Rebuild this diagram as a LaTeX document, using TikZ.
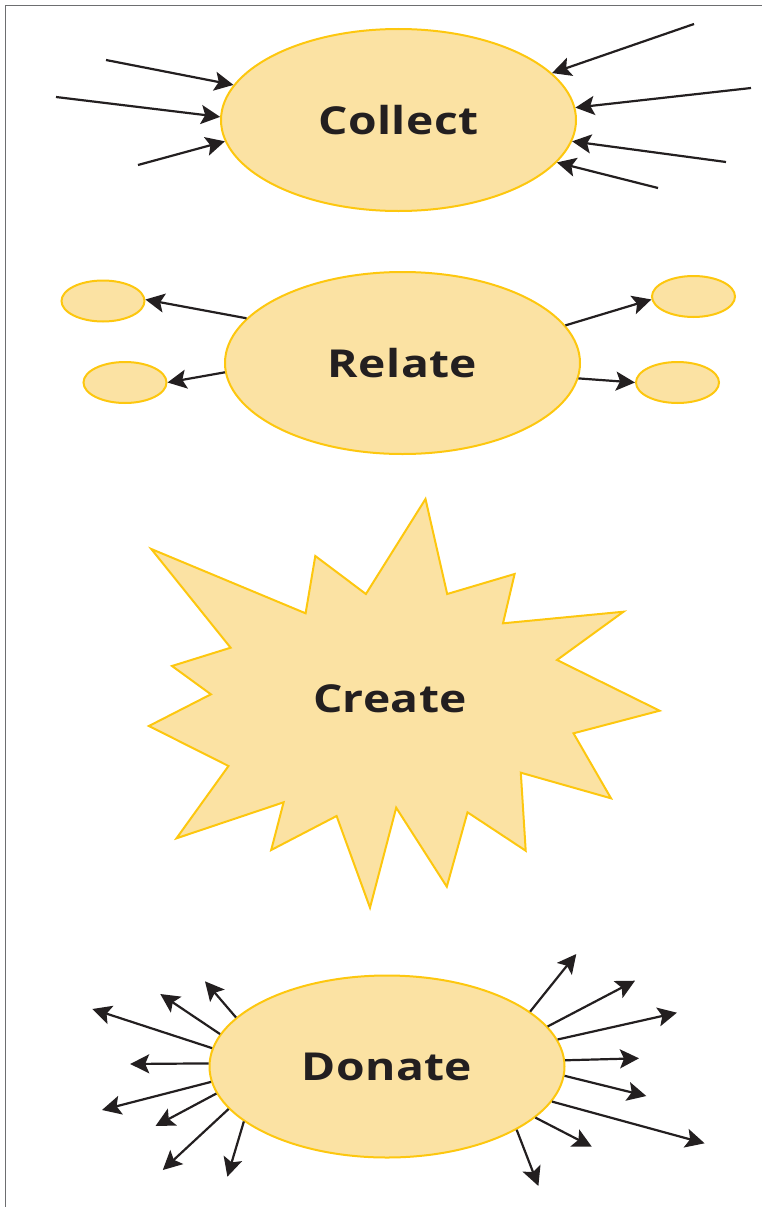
\documentclass[tikz,border=0pt]{standalone}
\usepackage{fontspec}
\setmainfont{Open Sans}
\newfontfamily\labelfont[FakeStretch=1.2,LetterSpace=1]{Open Sans}
\usetikzlibrary{arrows.meta,shapes.geometric}

\definecolor{fillyel}{HTML}{FBE2A3}
\definecolor{edgeyel}{HTML}{FDC70F}
\definecolor{ink}{HTML}{231F20}
\definecolor{framegray}{HTML}{6D6E70}

\tikzset{
  labeltext/.style={font=\labelfont\bfseries\fontsize{38.5}{44}\selectfont, text=ink},
  bubble/.style={ellipse, draw=edgeyel, fill=fillyel, line width=2pt, inner sep=0pt,
                 minimum width=355pt, minimum height=182pt, labeltext},
  pebble/.style={ellipse, draw=edgeyel, fill=fillyel, line width=2pt, inner sep=0pt,
                 minimum width=83pt, minimum height=41pt},
  flow/.style={draw=ink, line width=2.2pt, -{Stealth[length=19pt,width=19pt,inset=4pt]}},
  burst/.style={draw=edgeyel, fill=fillyel, line width=2pt, line join=miter},
}

\begin{document}
\begin{tikzpicture}[x=1pt,y=-1pt]
  \useasboundingbox (0,0) rectangle (762,1207);

  % frame along the top and left edges
  \draw[framegray, line width=1pt] (5.5,1207) -- (5.5,5.5) -- (762,5.5);

  % ---------- Collect: arrows pointing in ----------
  \node[bubble] (collect) at (398.5,120) {Collect};
  \coordinate (c1) at (106,60);
  \coordinate (c2) at (56,97);
  \coordinate (c3) at (138,165);
  \coordinate (c4) at (694,24);
  \coordinate (c5) at (751,88);
  \coordinate (c6) at (726,162);
  \coordinate (c7) at (658,188);
  \draw[flow] (c1) -- (collect.168.5);
  \draw[flow] (c2) -- (collect.179);
  \draw[flow] (c3) -- (collect.187.2);
  \draw[flow] (c4) -- (collect.17.4);
  \draw[flow] (c5) -- (collect.4.5);
  \draw[flow] (c6) -- (collect.353.2);
  \draw[flow] (c7) -- (collect.345.1);

  % ---------- Relate: links to four small bubbles ----------
  \node[bubble] (relate) at (402.5,363) {Relate};
  \node[pebble] (p1) at (103,301) {};
  \node[pebble] (p2) at (125,382.5) {};
  \node[pebble] (p3) at (693.5,296.5) {};
  \node[pebble] (p4) at (677.5,382.5) {};
  \draw[flow] (relate.164.4) -- (p1.2);
  \draw[flow] (relate.183.6) -- (p2.east);
  \draw[flow] (relate.13.0) -- (p3.184);
  \draw[flow] (relate.355.5) -- (p4.west);

  % ---------- Create: starburst ----------
  \draw[burst] (151.3,549) -- (305.6,613.3) -- (315.3,556) -- (365.9,594)
    -- (425.5,499) -- (447.2,594) -- (514.6,574) -- (503,623.3)
    -- (623.5,611.7) -- (557,660) -- (659.6,710.7) -- (573.5,733.3)
    -- (611,798.3) -- (520.8,772.7) -- (525.7,850.7) -- (467.5,812.3)
    -- (446.8,886.7) -- (396.2,807.7) -- (370,907.7) -- (336.6,816)
    -- (271.2,850) -- (283.6,802.3) -- (176.5,838.3) -- (228.5,766)
    -- (148.9,726) -- (210.9,694.3) -- (172,666) -- (230.6,647.7) -- cycle;
  \node[labeltext] (create) at (390,699) {Create};

  % ---------- Donate: arrows pointing out ----------
  \node[bubble] (donate) at (387,1066.5) {Donate};
  \coordinate (l1) at (92.3,1009);
  \coordinate (l2) at (160.3,994);
  \coordinate (l3) at (205,981.3);
  \coordinate (l4) at (130.2,1064);
  \coordinate (l5) at (102,1110);
  \coordinate (l6) at (155.5,1126);
  \coordinate (l7) at (162.8,1170);
  \coordinate (l8) at (227.4,1176.7);
  \coordinate (r1) at (576.3,954);
  \coordinate (r2) at (635,980.7);
  \coordinate (r3) at (676.9,1012.7);
  \coordinate (r4) at (639,1058.3);
  \coordinate (r5) at (646.3,1096);
  \coordinate (r6) at (704.6,1143.3);
  \coordinate (r7) at (591.8,1146.7);
  \coordinate (r8) at (538.4,1186);
  \draw[flow] (donate.174.1) -- (l1);
  \draw[flow] (donate.169.1) -- (l2);
  \draw[flow] (donate.162.6) -- (l3);
  \draw[flow] (donate.179.2) -- (l4);
  \draw[flow] (donate.185.6) -- (l5);
  \draw[flow] (donate.189.4) -- (l6);
  \draw[flow] (donate.195.6) -- (l7);
  \draw[flow] (donate.201.5) -- (l8);
  \draw[flow] (donate.21.6) -- (r1);
  \draw[flow] (donate.14.7) -- (r2);
  \draw[flow] (donate.9.1) -- (r3);
  \draw[flow] (donate.2.7) -- (r4);
  \draw[flow] (donate.357.5) -- (r5);
  \draw[flow] (donate.348) -- (r6);
  \draw[flow] (donate.341.5) -- (r7);
  \draw[flow] (donate.334.9) -- (r8);
\end{tikzpicture}
\end{document}
